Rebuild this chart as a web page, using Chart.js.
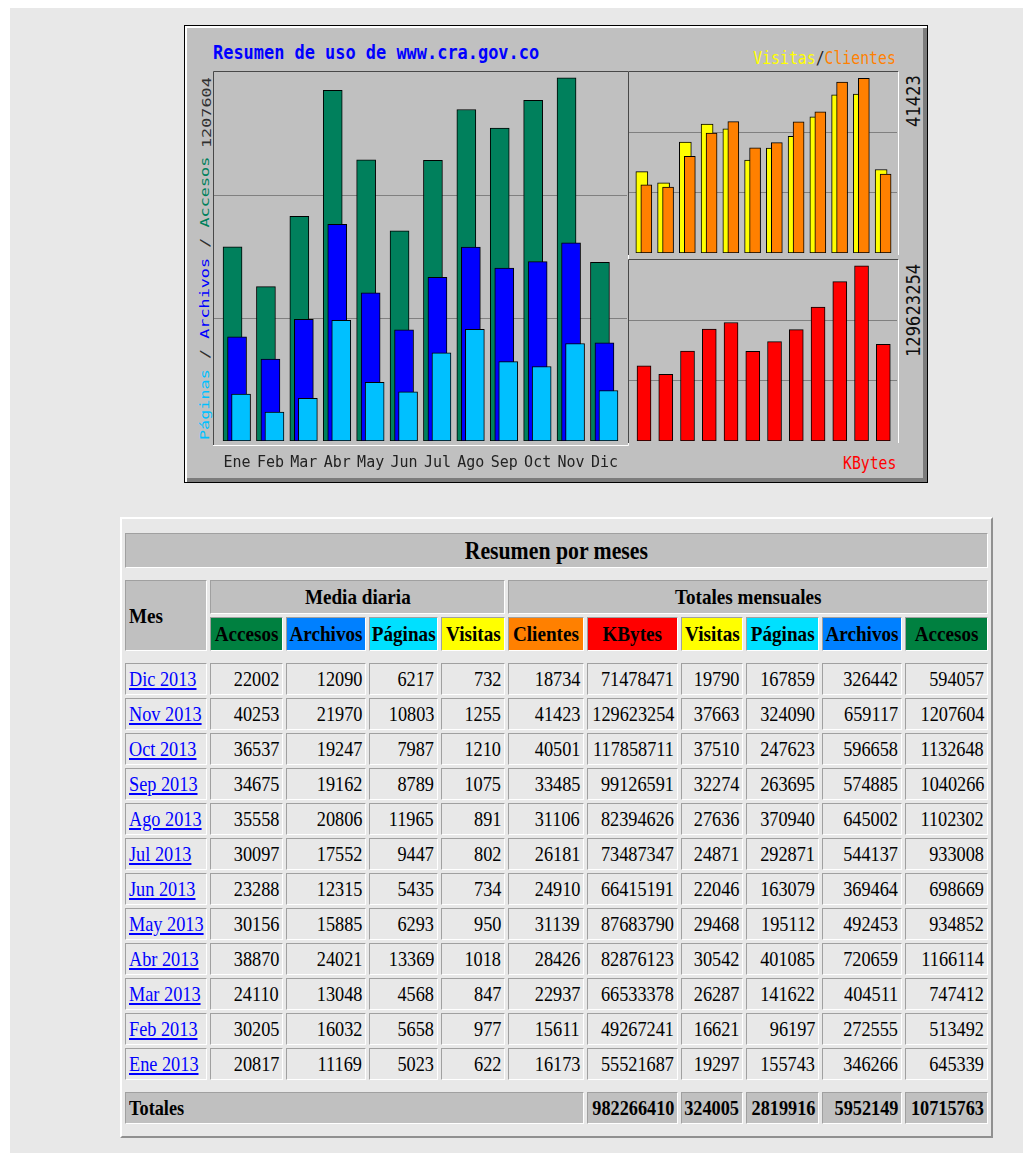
<!DOCTYPE html>
<html lang="es">
<head>
<meta charset="utf-8">
<title>Resumen de uso de www.cra.gov.co</title>
<script src="https://cdn.jsdelivr.net/npm/chart.js"></script>
<style>
  html, body { margin: 0; padding: 0; background: #fff; }
  body { width: 1023px; height: 1153px; position: relative; overflow: hidden; }
  #fondo { position: absolute; left: 10px; top: 8px; right: 0; bottom: 0; background: #e8e8e8; }

  #grafico {
    position: absolute; left: 184px; top: 25px; width: 742px; height: 456px;
    background: #c0c0c0; border: 1px solid #000;
    box-shadow: inset 2px 2px 0 #fff, inset -4px -4px 0 #7c7c7c;
  }
  #grafico canvas { position: absolute; }
  .txt { position: absolute; white-space: nowrap; line-height: 1; font-family: "DejaVu Sans Mono", monospace; }
  #titulo { left: 28px; top: 17px; font-size: 19.5px; font-weight: bold; color: #0000ff; transform: scaleX(0.868); transform-origin: 0 0; }
  #leyendaVC { right: 31px; top: 24px; font-size: 17px; transform: scaleX(0.87); transform-origin: 100% 0; }
  #leyendaKB { right: 31px; top: 429px; font-size: 17px; color: #ff0000; transform: scaleX(0.87); transform-origin: 100% 0; }
  .vert { transform-origin: 0 0; }
  .pequeno { font-size: 12px; color: #303030; transform: rotate(-90deg) scaleX(1.4); }
  .grande { font-size: 20px; color: #101010; transform: rotate(-90deg) scaleX(0.86); }
  #leyendaIzq { left: 14px; top: 414px; }
  #maxIzq { left: 16px; top: 122px; }
  #maxVC { left: 718px; top: 101px; }
  #maxKB { left: 718px; top: 331px; }

  #tabla {
    position: absolute; left: 120px; top: 517px; width: 873px;
    border-collapse: separate; border-spacing: 3px; table-layout: fixed;
    border: 2px solid; border-color: #fff #909090 #909090 #fff;
    background: #e8e8e8; color: #000;
    font-family: "Liberation Serif", "Times New Roman", serif; font-size: 21px;
  }
  #tabla th, #tabla td {
    box-sizing: border-box; border: 1px solid; border-color: #a0a0a0 #fff #fff #a0a0a0;
    padding: 0 3px; white-space: nowrap; vertical-align: middle; height: 32px;
  }
  #tabla tr.sep td { border: none; padding: 0; height: 6px; }
  #tabla tr.sep.alto td { height: 8px; }
  #tabla span { display: inline-block; transform: scaleX(0.87); }
  .der { text-align: right; }
  .der span { transform-origin: 100% 50%; margin-left: -40px; }
  .cen { text-align: center; }
  .cen span { transform-origin: 50% 50%; margin: 0 -40px; }
  .izq { text-align: left; }
  .izq span { transform-origin: 0 50%; margin-right: -40px; }
  #tabla .titulo { font-size: 25px; height: 35px; background: #c0c0c0; }
  #tabla .cab { font-size: 22px; height: 34px; }
  .gris { background: #c0c0c0; }
  #tabla a { color: #0000ff; }
  #tabla a span { text-decoration: underline; }
</style>
</head>
<body>
<div id="fondo"></div>

<div id="grafico">
  <div class="txt" id="titulo">Resumen de uso de www.cra.gov.co</div>
  <div class="txt" id="leyendaVC"><span style="color:#ffff00">Visitas</span><span style="color:#202020">/</span><span style="color:#ff8000">Clientes</span></div>
  <div class="txt" id="leyendaKB">KBytes</div>
  <div class="txt vert pequeno" id="leyendaIzq"><span style="color:#00c0ff">Páginas</span> / <span style="color:#0000ff">Archivos</span> / <span style="color:#00805c">Accesos</span></div>
  <div class="txt vert pequeno" id="maxIzq"></div>
  <div class="txt vert grande" id="maxVC"></div>
  <div class="txt vert grande" id="maxKB"></div>
  <canvas id="izq" width="418" height="406" style="left:27px; top:44px"></canvas>
  <canvas id="visitasClientes" width="272" height="185" style="left:442px; top:44px"></canvas>
  <canvas id="kb" width="272" height="185" style="left:442px; top:232px"></canvas>
</div>

<table id="tabla">
  <colgroup>
    <col style="width:82px"><col style="width:73px"><col style="width:80px"><col style="width:69px">
    <col style="width:64px"><col style="width:76px"><col style="width:91px"><col style="width:62px">
    <col style="width:73px"><col style="width:80px"><col style="width:83px">
  </colgroup>
  <tbody>
    <tr class="sep alto"><td colspan="11"></td></tr>
    <tr><th colspan="11" class="titulo cen"><span>Resumen por meses</span></th></tr>
    <tr class="sep"><td colspan="11"></td></tr>
    <tr>
      <th rowspan="2" class="cab gris izq"><span>Mes</span></th>
      <th colspan="4" class="cab gris cen"><span>Media diaria</span></th>
      <th colspan="6" class="cab gris cen"><span>Totales mensuales</span></th>
    </tr>
    <tr>
      <th class="cab cen" style="background:#008040"><span>Accesos</span></th>
      <th class="cab cen" style="background:#0080ff"><span>Archivos</span></th>
      <th class="cab cen" style="background:#00e0ff"><span>Páginas</span></th>
      <th class="cab cen" style="background:#ffff00"><span>Visitas</span></th>
      <th class="cab cen" style="background:#ff8000"><span>Clientes</span></th>
      <th class="cab cen" style="background:#ff0000"><span>KBytes</span></th>
      <th class="cab cen" style="background:#ffff00"><span>Visitas</span></th>
      <th class="cab cen" style="background:#00e0ff"><span>Páginas</span></th>
      <th class="cab cen" style="background:#0080ff"><span>Archivos</span></th>
      <th class="cab cen" style="background:#008040"><span>Accesos</span></th>
    </tr>
    <tr class="sep"><td colspan="11"></td></tr>
  </tbody>
  <tbody id="filas"></tbody>
  <tbody id="pie"></tbody>
</table>

<script>
const meses = ['Ene', 'Feb', 'Mar', 'Abr', 'May', 'Jun', 'Jul', 'Ago', 'Sep', 'Oct', 'Nov', 'Dic'];
const anio = 2013;

// totales mensuales, de Ene a Dic
const accesos  = [645339, 513492, 747412, 1166114, 934852, 698669, 933008, 1102302, 1040266, 1132648, 1207604, 594057];
const archivos = [346266, 272555, 404511, 720659, 492453, 369464, 544137, 645002, 574885, 596658, 659117, 326442];
const paginas  = [155743, 96197, 141622, 401085, 195112, 163079, 292871, 370940, 263695, 247623, 324090, 167859];
const visitas  = [19297, 16621, 26287, 30542, 29468, 22046, 24871, 27636, 32274, 37510, 37663, 19790];
const clientes = [16173, 15611, 22937, 28426, 31139, 24910, 26181, 31106, 33485, 40501, 41423, 18734];
const kbytes   = [55521687, 49267241, 66533378, 82876123, 87683790, 66415191, 73487347, 82394626, 99126591, 117858711, 129623254, 71478471];

// media diaria
const mediaAccesos  = [20817, 30205, 24110, 38870, 30156, 23288, 30097, 35558, 34675, 36537, 40253, 22002];
const mediaArchivos = [11169, 16032, 13048, 24021, 15885, 12315, 17552, 20806, 19162, 19247, 21970, 12090];
const mediaPaginas  = [5023, 5658, 4568, 13369, 6293, 5435, 9447, 11965, 8789, 7987, 10803, 6217];
const mediaVisitas  = [622, 977, 847, 1018, 950, 734, 802, 891, 1075, 1210, 1255, 732];

// fila Totales: KBytes, Visitas, Paginas, Archivos, Accesos
const totales = [982266410, 324005, 2819916, 5952149, 10715763];

const maxIzq = Math.max(...accesos, ...archivos, ...paginas);
const maxVC = Math.max(...visitas, ...clientes);
const maxKB = Math.max(...kbytes);

document.getElementById('maxIzq').textContent = maxIzq;
document.getElementById('maxVC').textContent = maxVC;
document.getElementById('maxKB').textContent = maxKB;

Chart.defaults.font.family = 'DejaVu Sans Mono';

// marco hundido alrededor del area de dibujo
const marco = {
    id: 'marco',
    afterDraw(chart, args, opts) {
        const ctx = chart.ctx;
        const a = chart.chartArea;
        const abajo = opts.abajo || 2;
        ctx.save();
        ctx.lineWidth = 1;
        ctx.strokeStyle = '#484848';
        ctx.beginPath();
        ctx.moveTo(a.left - 0.5, a.bottom + abajo);
        ctx.lineTo(a.left - 0.5, a.top - 0.5);
        ctx.lineTo(a.right + 1, a.top - 0.5);
        ctx.stroke();
        ctx.strokeStyle = '#ffffff';
        ctx.beginPath();
        ctx.moveTo(a.right + 1.5, a.top);
        ctx.lineTo(a.right + 1.5, a.bottom + abajo + 0.5);
        ctx.lineTo(a.left - 1, a.bottom + abajo + 0.5);
        ctx.stroke();
        ctx.restore();
    }
};

function puntos(valores, desplazamiento) {
    return valores.map((v, i) => ({ x: i + desplazamiento, y: v }));
}

function ejeY(maximo) {
    return {
        min: 0,
        max: maximo,
        grid: { color: '#808080', drawTicks: false },
        border: { display: false },
        ticks: { display: false },
        afterBuildTicks: (eje) => { eje.ticks = [{ value: maximo / 3 }, { value: maximo * 2 / 3 }]; }
    };
}

const barras = { grouped: false, borderWidth: 1, borderColor: '#000', borderSkipped: false };

// accesos / archivos / paginas
new Chart(document.getElementById('izq'), {
    type: 'bar',
    data: {
        datasets: [
            { label: 'Accesos', data: puntos(accesos, -0.135), backgroundColor: '#00805c', barThickness: 19, order: 3 },
            { label: 'Archivos', data: puntos(archivos, 0), backgroundColor: '#0000ff', barThickness: 19, order: 2 },
            { label: 'Páginas', data: puntos(paginas, 0.12), backgroundColor: '#00c0ff', barThickness: 19, order: 1 }
        ]
    },
    options: {
        responsive: false,
        animation: false,
        layout: { padding: { left: 2, top: 2, right: 3, bottom: 0 } },
        datasets: { bar: barras },
        plugins: { legend: { display: false }, tooltip: { enabled: false }, marco: { abajo: 4 } },
        scales: {
            x: {
                type: 'linear', min: -0.69, max: 11.675, offset: false,
                grid: { display: true, offset: false, drawOnChartArea: false, drawTicks: true, tickLength: 13, tickColor: 'rgba(0,0,0,0)' },
                border: { display: false },
                afterBuildTicks: (eje) => { eje.ticks = meses.map((m, i) => ({ value: i })); },
                afterFit: (eje) => { eje.height = 35; },
                ticks: {
                    autoSkip: false, maxRotation: 0, minRotation: 0, padding: 0,
                    color: '#222', font: { size: 15 },
                    callback: (v) => meses[v]
                }
            },
            y: ejeY(maxIzq * 1.016)
        }
    },
    plugins: [marco]
});

// visitas / clientes
new Chart(document.getElementById('visitasClientes'), {
    type: 'bar',
    data: {
        datasets: [
            { label: 'Visitas', data: puntos(visitas, -0.1), backgroundColor: '#ffff00', barThickness: 12, order: 2 },
            { label: 'Clientes', data: puntos(clientes, 0.106), backgroundColor: '#ff8000', barThickness: 11, order: 1 }
        ]
    },
    options: {
        responsive: false,
        animation: false,
        layout: { padding: 2 },
        datasets: { bar: barras },
        plugins: { legend: { display: false }, tooltip: { enabled: false }, marco: { abajo: 2 } },
        scales: {
            x: { type: 'linear', display: false, min: -0.69, max: 11.63, offset: false, grid: { offset: false } },
            y: ejeY(maxVC * 1.036)
        }
    },
    plugins: [marco]
});

// kbytes
new Chart(document.getElementById('kb'), {
    type: 'bar',
    data: {
        datasets: [
            { label: 'KBytes', data: puntos(kbytes, 0), backgroundColor: '#ff0000', barThickness: 14 }
        ]
    },
    options: {
        responsive: false,
        animation: false,
        layout: { padding: 2 },
        datasets: { bar: barras },
        plugins: { legend: { display: false }, tooltip: { enabled: false }, marco: { abajo: 2 } },
        scales: {
            x: { type: 'linear', display: false, min: -0.69, max: 11.63, offset: false, grid: { offset: false } },
            y: ejeY(maxKB * 1.033)
        }
    },
    plugins: [marco]
});

// tabla: de Dic a Ene
const filas = document.getElementById('filas');
for (let i = meses.length - 1; i >= 0; i--) {
    const valores = [mediaAccesos[i], mediaArchivos[i], mediaPaginas[i], mediaVisitas[i],
        clientes[i], kbytes[i], visitas[i], paginas[i], archivos[i], accesos[i]];
    const tr = document.createElement('tr');
    tr.innerHTML = '<td class="izq"><a href="#"><span>' + meses[i] + ' ' + anio + '</span></a></td>' +
        valores.map(v => '<td class="der"><span>' + v + '</span></td>').join('');
    filas.appendChild(tr);
}

const pie = document.getElementById('pie');
pie.innerHTML = '<tr class="sep"><td colspan="11"></td></tr>' +
    '<tr><th colspan="6" class="gris izq"><span>Totales</span></th>' +
    totales.map(v => '<th class="gris der"><span>' + v + '</span></th>').join('') + '</tr>' +
    '<tr class="sep"><td colspan="11"></td></tr>';
</script>
</body>
</html>
